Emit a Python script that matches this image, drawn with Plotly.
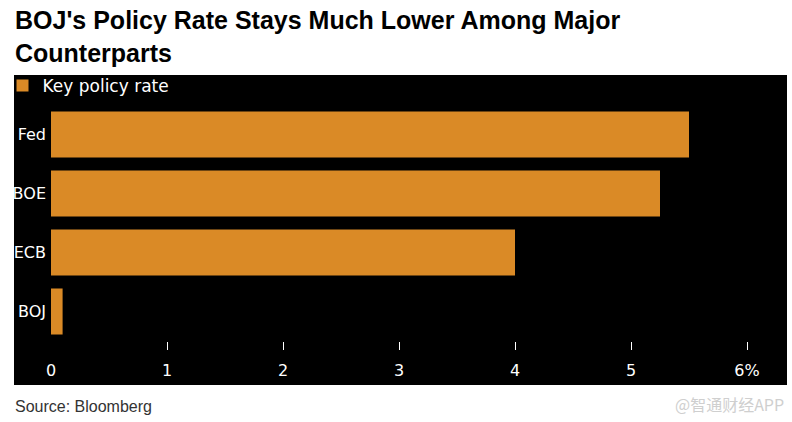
import plotly.graph_objects as go

banks = ["Fed", "BOE", "ECB", "BOJ"]
rates = [5.5, 5.25, 4.0, 0.1]
tick_vals = [0, 1, 2, 3, 4, 5, 6]
tick_text = ["0", "1", "2", "3", "4", "5", "6%"]
mark_vals = [1, 2, 3, 4, 5, 6]

W, H = 792, 422
L, R, T, B = 51, 45, 105, 81
pw = W - L - R
ph = H - T - B

fig = go.Figure()
fig.add_trace(go.Bar(
    x=rates, y=banks, orientation="h", name="Key policy rate",
    marker=dict(color="#DA8A26", line=dict(width=0)),
    showlegend=True,
))
# invisible trace for tick marks axis
fig.add_trace(go.Scatter(x=[0, 6], y=[banks[0], banks[0]], xaxis="x2", mode="markers",
                         marker=dict(opacity=0), showlegend=False, hoverinfo="skip"))

fig.update_layout(
    width=W, height=H,
    margin=dict(l=L, r=R, t=T, b=B, autoexpand=False),
    paper_bgcolor="white",
    plot_bgcolor="black",
    bargap=0.22,
    font=dict(family="DejaVu Sans", color="white", size=16),
    xaxis=dict(
        range=[0, 6], tickvals=tick_vals, ticktext=tick_text,
        ticks="", showgrid=False, zeroline=False, showline=False,
        tickfont=dict(color="white", size=16, family="DejaVu Sans"),
        ticklabelstandoff=18,
    ),
    xaxis2=dict(
        range=[0, 6], overlaying="x", side="bottom", tickvals=mark_vals,
        ticks="outside", ticklen=8, tickwidth=1, tickcolor="white",
        showticklabels=False, showgrid=False, zeroline=False, showline=False,
    ),
    yaxis=dict(
        categoryorder="array", categoryarray=banks, autorange="reversed",
        showgrid=False, zeroline=False, showline=False, ticks="",
        tickfont=dict(color="white", size=16, family="DejaVu Sans"),
        ticklabelstandoff=4,
    ),
    legend=dict(
        x=(2.5 - L) / pw, y=1 + (T - 68) / ph, xanchor="left", yanchor="top",
        bgcolor="rgba(0,0,0,0)", font=dict(color="white", size=17, family="DejaVu Sans"),
        itemwidth=30, tracegroupgap=0,
    ),
    shapes=[dict(
        type="rect", xref="paper", yref="paper", layer="below",
        x0=(14 - L) / pw, x1=(787 - L) / pw,
        y0=-(385 - (T + ph)) / ph, y1=1 + (T - 75) / ph,
        fillcolor="black", line=dict(width=0),
    )],
    annotations=[
        dict(text="BOJ's Policy Rate Stays Much Lower Among Major<br>Counterparts",
             xref="paper", yref="paper", x=(13 - L) / pw, y=1 + (T - 4) / ph,
             xanchor="left", yanchor="top", align="left", showarrow=False,
             font=dict(family="Liberation Sans", size=25, color="black", weight="bold")),
        dict(text="Source: Bloomberg", xref="paper", yref="paper",
             x=(13 - L) / pw, y=-(406 - (T + ph)) / ph, xanchor="left", yanchor="middle",
             showarrow=False, font=dict(family="Liberation Sans", size=16, color="#333333")),
        dict(text="@智通财经APP", xref="paper", yref="paper",
             x=(786 - L) / pw, y=-(404 - (T + ph)) / ph, xanchor="right", yanchor="middle",
             showarrow=False, font=dict(family="Noto Sans CJK SC", size=16, color="#CFCFCF")),
    ],
)

fig.write_html("out.html", config={"displayModeBar": False},
               post_script="document.body.style.margin='0';document.body.style.padding='0';")
